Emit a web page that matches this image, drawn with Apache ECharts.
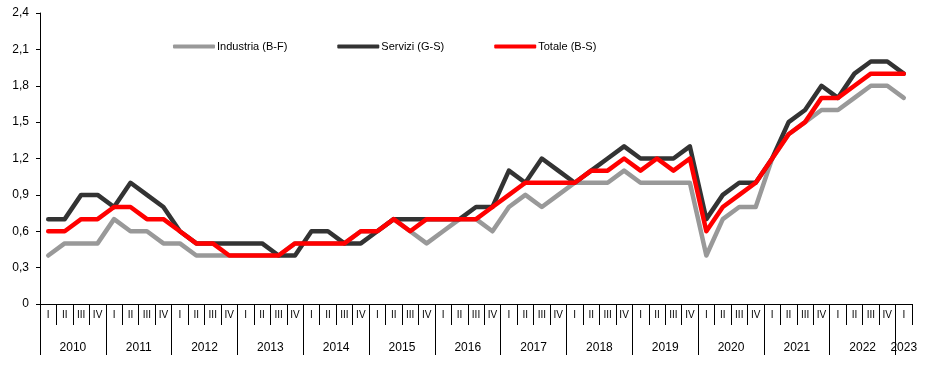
<!DOCTYPE html>
<html><head><meta charset="utf-8">
<script src="https://cdn.jsdelivr.net/npm/echarts@6/dist/echarts.min.js"></script>
<style>html,body{margin:0;padding:0;background:#fff}#c{width:934px;height:380px}</style>
</head><body><div id="c"></div>
<script>
const quarterLabels = [
  'I','II','III','IV','I','II','III','IV','I','II','III','IV','I','II','III','IV',
  'I','II','III','IV','I','II','III','IV','I','II','III','IV','I','II','III','IV',
  'I','II','III','IV','I','II','III','IV','I','II','III','IV','I','II','III','IV',
  'I','II','III','IV','I'
];
const years = ['2010','2011','2012','2013','2014','2015','2016','2017','2018','2019','2020','2021','2022','2023'];
const yTicks = [0, 0.3, 0.6, 0.9, 1.2, 1.5, 1.8, 2.1, 2.4];

const industria = [0.4,0.5,0.5,0.5, 0.7,0.6,0.6,0.5, 0.5,0.4,0.4,0.4, 0.4,0.4,0.4,0.5,
  0.5,0.5,0.5,0.6, 0.6,0.7,0.6,0.5, 0.6,0.7,0.7,0.6, 0.8,0.9,0.8,0.9,
  1.0,1.0,1.0,1.1, 1.0,1.0,1.0,1.0, 0.4,0.7,0.8,0.8, 1.2,1.4,1.5,1.6,
  1.6,1.7,1.8,1.8, 1.7];
const servizi = [0.7,0.7,0.9,0.9, 0.8,1.0,0.9,0.8, 0.6,0.5,0.5,0.5, 0.5,0.5,0.4,0.4,
  0.6,0.6,0.5,0.5, 0.6,0.7,0.7,0.7, 0.7,0.7,0.8,0.8, 1.1,1.0,1.2,1.1,
  1.0,1.1,1.2,1.3, 1.2,1.2,1.2,1.3, 0.7,0.9,1.0,1.0, 1.2,1.5,1.6,1.8,
  1.7,1.9,2.0,2.0, 1.9];
const totale = [0.6,0.6,0.7,0.7, 0.8,0.8,0.7,0.7, 0.6,0.5,0.5,0.4, 0.4,0.4,0.4,0.5,
  0.5,0.5,0.5,0.6, 0.6,0.7,0.6,0.7, 0.7,0.7,0.7,0.8, 0.9,1.0,1.0,1.0,
  1.0,1.1,1.1,1.2, 1.1,1.2,1.1,1.2, 0.6,0.8,0.9,1.0, 1.2,1.4,1.5,1.7,
  1.7,1.8,1.9,1.9, 1.9];

const seriesNames = ['Industria (B-F)', 'Servizi (G-S)', 'Totale (B-S)'];
const FONT = "'Liberation Sans', Arial, sans-serif";

// half-quarter axis for year labels (centered under each year's quarters)
const N = quarterLabels.length;
const halfCats = [];
for (let k = 0; k <= 2 * N; k++) halfCats.push('');
const yearStarts = new Set();
years.forEach((y, j) => {
  const first = 4 * j;
  const count = Math.min(4, N - first);
  if (count <= 0) return;
  yearStarts.add(2 * first);
  halfCats[2 * first + count] = y;
});

const chart = echarts.init(document.getElementById('c'), null, {renderer: 'canvas'});
chart.setOption({
  animation: false,
  backgroundColor: '#fff',
  textStyle: {fontFamily: FONT},
  grid: {left: 40, right: 22, top: 13, bottom: 76, outerBoundsMode: 'none', containLabel: false},
  legend: {
    data: seriesNames,
    left: 168, top: 36,
    itemWidth: 42, itemHeight: 4, itemGap: 50,
    icon: 'roundRect',
    textStyle: {fontFamily: FONT, fontSize: 11, color: '#000', padding: [0, 0, 0, -3]}
  },
  xAxis: [{
    type: 'category',
    data: quarterLabels,
    boundaryGap: true,
    axisLine: {lineStyle: {color: '#000', width: 1}},
    axisTick: {show: true, interval: 0, length: 21, lineStyle: {color: '#000'}},
    axisLabel: {interval: 0, fontSize: 10, color: '#000', margin: 6, fontFamily: FONT},
    splitLine: {show: false}
  }, {
    type: 'category',
    data: halfCats,
    boundaryGap: false,
    position: 'bottom',
    axisLine: {show: false},
    axisTick: {show: true, length: 51, lineStyle: {color: '#000'},
      interval: (i) => yearStarts.has(i)},
    axisLabel: {fontSize: 12, color: '#000', margin: 38, fontFamily: FONT,
      interval: (i, v) => v !== ''},
    splitLine: {show: false}
  }],
  yAxis: {
    type: 'value',
    min: yTicks[0], max: yTicks[yTicks.length - 1], interval: yTicks[1] - yTicks[0],
    axisLine: {show: true, lineStyle: {color: '#000', width: 1}},
    axisTick: {show: true, length: 4, lineStyle: {color: '#000'}},
    axisLabel: {fontSize: 12, color: '#000', margin: 11, fontFamily: FONT,
      formatter: v => v === 0 ? '0' : v.toFixed(1).replace('.', ',')},
    splitLine: {show: false}
  },
  series: [
    {name: seriesNames[0], type: 'line', data: industria, showSymbol: false, symbol: 'none',
      color: '#999999', lineStyle: {width: 4.5, color: '#999999', join: 'round', cap: 'round'}},
    {name: seriesNames[1], type: 'line', data: servizi, showSymbol: false, symbol: 'none',
      color: '#333333', lineStyle: {width: 4.5, color: '#333333', join: 'round', cap: 'round'}},
    {name: seriesNames[2], type: 'line', data: totale, showSymbol: false, symbol: 'none',
      color: '#ff0000', lineStyle: {width: 4.5, color: '#ff0000', join: 'round', cap: 'round'}}
  ]
});
</script>
</body></html>
